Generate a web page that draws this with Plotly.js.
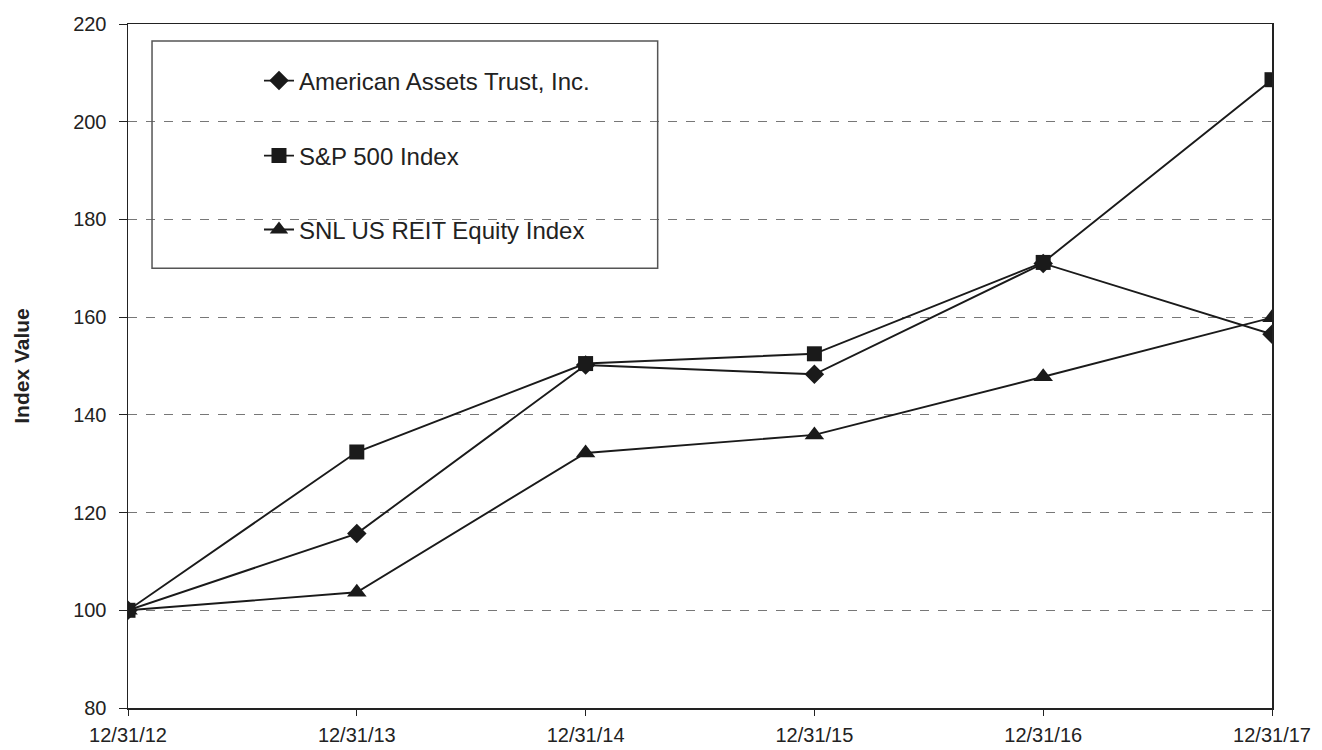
<!DOCTYPE html>
<html>
<head>
<meta charset="utf-8">
<script src="https://cdn.plot.ly/plotly-3.0.1.min.js"></script>
<style>html,body{margin:0;padding:0;background:#fff}#chart{width:1322px;height:750px}</style>
</head>
<body>
<div id="chart"></div>
<script>
const dates = ["12/31/12","12/31/13","12/31/14","12/31/15","12/31/16","12/31/17"];
const aat = [100, 115.7, 150.2, 148.3, 171.0, 156.5];
const sp500 = [100, 132.4, 150.5, 152.5, 171.2, 208.6];
const snl = [100, 103.7, 132.2, 135.9, 147.8, 159.9];
const seriesNames = ["American Assets Trust, Inc.", "S&P 500 Index", "SNL US REIT Equity Index"];
const yTicks = [80, 100, 120, 140, 160, 180, 200, 220];

const FONT = "'Liberation Sans', Arial, sans-serif";
const lineCol = "#1a1a1a";

function mk(y, name, sym, size, leg) {
  return {
    x: dates, y: y, name: name, type: "scatter", mode: "lines+markers",
    legend: leg,
    line: {color: lineCol, width: 1.9},
    marker: {symbol: sym, size: size, color: lineCol}
  };
}

// drawing order: SNL, AAT, S&P on top
const data = [
  mk(snl, seriesNames[2], "triangle-up", 17, "legend3"),
  mk(aat, seriesNames[0], "diamond", 15, "legend"),
  mk(sp500, seriesNames[1], "square", 15, "legend2")
];

function legendAt(y) {
  return {
    x: 0.1145, y: y, xanchor: "left", yanchor: "middle",
    bgcolor: "rgba(0,0,0,0)", borderwidth: 0,
    font: {family: FONT, size: 24, color: "#222"}
  };
}

const layout = {
  width: 1322, height: 750,
  margin: {l: 128, r: 50, t: 24, b: 42},
  paper_bgcolor: "#fff", plot_bgcolor: "#fff",
  font: {family: FONT, size: 20, color: "#222"},
  showlegend: true,
  legend: legendAt(0.9167),
  legend2: legendAt(0.807),
  legend3: legendAt(0.699),
  xaxis: {
    type: "category", range: [0, 5],
    showgrid: false, zeroline: false,
    showline: true, linecolor: "#222", linewidth: 1.5, mirror: true,
    ticks: "outside", ticklen: 6, tickcolor: "#222",
    ticklabelstandoff: 2,
    tickfont: {family: FONT, size: 20, color: "#222"}
  },
  yaxis: {
    range: [80, 220], tickvals: yTicks, ticktext: yTicks.map(String),
    showgrid: true, gridcolor: "#777", griddash: "dash", gridwidth: 1,
    zeroline: false,
    showline: true, linecolor: "#222", linewidth: 1.5, mirror: true,
    ticks: "outside", ticklen: 8, tickcolor: "#222",
    ticklabelstandoff: 8,
    tickfont: {family: FONT, size: 20, color: "#222"},
    title: {text: "<b>Index Value</b>", font: {family: FONT, size: 21, color: "#222"}, standoff: 38}
  },
  shapes: [{
    type: "rect", xref: "paper", yref: "paper",
    x0: 0.021, x1: 0.463, y0: 0.643, y1: 0.975,
    line: {color: "#555", width: 1.5}, fillcolor: "rgba(0,0,0,0)", layer: "above"
  }]
};

Plotly.newPlot("chart", data, layout, {displayModeBar: false, staticPlot: true});
</script>
</body>
</html>
